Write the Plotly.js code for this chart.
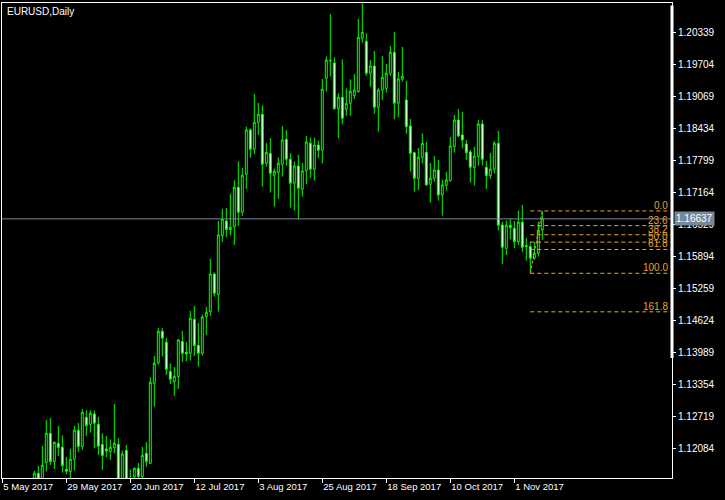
<!DOCTYPE html>
<html>
<head>
<meta charset="utf-8">
<script src="https://cdn.plot.ly/plotly-3.0.1.min.js"></script>
<style>html,body{margin:0;padding:0;background:#000;}</style>
</head>
<body>
<div id="chart" style="width:725px;height:500px;"></div>
<script>
// ---- data ----
const symbolLabel = 'EURUSD,Daily';
const axisStartDate = '2017-05-05';   // first trading day on the time axis
const firstCandleDate = '2017-05-17'; // first candle drawn (earlier ones are below the visible range)

const open = [1.10940,1.11589,1.11180,1.11800,1.12382,1.11820,1.12184,1.12105,1.11668,1.11622,
1.11867,1.12442,1.12118,1.12700,1.12561,1.12766,1.12561,1.12158,1.12072,1.12019,
1.12098,1.12164,1.11350,1.12045,1.11420,1.11523,1.11688,1.11523,1.11986,1.11787,
1.13374,1.13784,1.14406,1.14188,1.13606,1.13408,1.13507,1.14201,1.13990,1.13970,
1.14644,1.14128,1.13970,1.14697,1.14797,1.15544,1.15134,1.16305,1.16596,1.16424,
1.16483,1.17263,1.16768,1.17521,1.18401,1.18017,1.18553,1.18712,1.17740,1.17938,
1.17502,1.17561,1.17720,1.18216,1.17819,1.17343,1.17687,1.17224,1.17594,1.18136,
1.17621,1.18103,1.17998,1.19426,1.19783,1.19730,1.18824,1.19049,1.18811,1.18930,
1.19082,1.19161,1.20220,1.20160,1.19525,1.19671,1.18851,1.19194,1.19228,1.19525,
1.19942,1.18930,1.19406,1.18996,1.18480,1.17951,1.17442,1.17859,1.17958,1.17323,
1.17442,1.17607,1.17111,1.17303,1.17396,1.18070,1.18599,1.18302,1.18123,1.17964,
1.17660,1.17872,1.18520,1.17660,1.17495,1.17621,1.18136,1.16516,1.16053,1.16510,
1.16450,1.16186,1.16570,1.16106,1.16086,1.15855,1.15954,1.16417];
const high = [1.11635,1.11734,1.12131,1.12647,1.12687,1.12220,1.12528,1.12343,1.11913,1.12072,
1.12528,1.12587,1.12865,1.12839,1.12839,1.12839,1.12707,1.12382,1.12329,1.12263,
1.12965,1.12283,1.12039,1.12151,1.11655,1.11700,1.11794,1.12111,1.12210,1.13493,
1.13917,1.14472,1.14472,1.14274,1.13771,1.13698,1.14254,1.14413,1.14188,1.14809,
1.14909,1.14571,1.14737,1.14889,1.15842,1.15571,1.16596,1.16834,1.16854,1.17131,
1.17402,1.17779,1.17647,1.18467,1.18434,1.19115,1.18937,1.18890,1.18136,1.18236,
1.17640,1.17859,1.18480,1.18401,1.17938,1.17779,1.17905,1.17746,1.18282,1.18249,
1.18249,1.18190,1.19413,1.19856,1.20702,1.19843,1.19128,1.19803,1.19228,1.19406,
1.19512,1.20603,1.20915,1.20319,1.19790,1.19968,1.19234,1.19869,1.19710,1.20067,
1.20345,1.19552,1.20048,1.19373,1.18619,1.17971,1.18044,1.18335,1.18163,1.17746,
1.17885,1.17806,1.17409,1.17568,1.18262,1.18699,1.18818,1.18758,1.18203,1.18004,
1.18064,1.18599,1.18599,1.17786,1.17945,1.18183,1.18381,1.16576,1.16602,1.16642,
1.16596,1.16800,1.16913,1.16258,1.16186,1.16166,1.16582,1.16794];
const low = [1.10820,1.11100,1.11120,1.11622,1.11754,1.11675,1.11933,1.11602,1.11570,1.11490,
1.11642,1.12012,1.12052,1.12330,1.12396,1.12085,1.11953,1.11655,1.11906,1.11853,
1.11986,1.11300,1.11280,1.11350,1.11330,1.11480,1.11480,1.11480,1.11721,1.11774,
1.12911,1.13738,1.13903,1.13540,1.13361,1.13123,1.13262,1.13804,1.13811,1.13824,
1.13917,1.13705,1.13923,1.14333,1.14711,1.15094,1.14797,1.16186,1.16272,1.16305,
1.16120,1.16496,1.16695,1.17230,1.17852,1.17925,1.18302,1.17277,1.17674,1.17158,
1.16880,1.17032,1.17475,1.17693,1.16860,1.16801,1.16629,1.17078,1.17323,1.17455,
1.17396,1.17839,1.17740,1.19161,1.19459,1.18804,1.18236,1.18513,1.18685,1.18685,
1.19016,1.19142,1.20134,1.19472,1.19261,1.18725,1.18368,1.18996,1.19142,1.19472,
1.18613,1.18652,1.19360,1.18328,1.17574,1.17178,1.17211,1.17740,1.17297,1.16959,
1.17376,1.16999,1.16701,1.17197,1.17376,1.17951,1.18256,1.18037,1.17806,1.17356,
1.17297,1.17693,1.17693,1.17230,1.17429,1.17541,1.16404,1.15742,1.15920,1.16232,
1.16053,1.16119,1.15974,1.15809,1.15557,1.15822,1.15888,1.16219];
const close = [1.11589,1.11180,1.11748,1.12382,1.11820,1.12204,1.12098,1.11741,1.11629,1.11867,
1.12442,1.12118,1.12799,1.12535,1.12779,1.12581,1.12125,1.11940,1.12032,1.12105,
1.12184,1.11380,1.11973,1.11420,1.11460,1.11688,1.11523,1.11946,1.11820,1.13394,
1.13770,1.14406,1.14267,1.13652,1.13454,1.13513,1.14234,1.13970,1.13956,1.14664,
1.14122,1.13970,1.14690,1.14783,1.15544,1.15161,1.16318,1.16629,1.16424,1.16470,
1.17263,1.16768,1.17502,1.18401,1.18017,1.18553,1.18712,1.17720,1.17958,1.17541,
1.17581,1.17740,1.18203,1.17819,1.17343,1.17687,1.17244,1.17588,1.18163,1.17621,
1.18103,1.17998,1.19208,1.19790,1.19776,1.18824,1.19049,1.18632,1.18930,1.19168,
1.19195,1.20239,1.20339,1.19525,1.19671,1.18851,1.19194,1.19446,1.19525,1.19942,
1.18930,1.19413,1.19466,1.18467,1.17938,1.17442,1.17859,1.18136,1.17310,1.17442,
1.17607,1.17111,1.17310,1.17409,1.18083,1.18599,1.18282,1.18203,1.17951,1.17660,
1.17885,1.18520,1.17819,1.17495,1.17627,1.18136,1.16510,1.16073,1.16510,1.16463,
1.16186,1.16570,1.16073,1.16086,1.15855,1.15954,1.16417,1.16637];

const tickDates  = ['2017-05-05','2017-05-29','2017-06-20','2017-07-12','2017-08-03','2017-08-25','2017-09-18','2017-10-10','2017-11-01'];
const tickLabels = ['5 May 2017','29 May 2017','20 Jun 2017','12 Jul 2017','3 Aug 2017','25 Aug 2017','18 Sep 2017','10 Oct 2017','1 Nov 2017'];
const priceTicks = [1.12084,1.12719,1.13354,1.13989,1.14624,1.15259,1.15894,1.16529,1.17164,1.17799,1.18434,1.19069,1.19704,1.20339];

const fibLevels = [0, 23.6, 38.2, 50.0, 61.8, 100.0, 161.8];
const fibLabels = ['0.0','23.6','38.2','50.0','61.8','100.0','161.8'];
const fibLowDate  = '2017-11-07';
const fibHighDate = '2017-11-10';

// ---- trading-day index helpers ----
function parseD(s){ return new Date(s + 'T00:00:00Z'); }
function fmt(d){ return d.toISOString().slice(0,10); }
function tradingIndex(s){
  const cur = parseD(axisStartDate), end = parseD(s);
  let n = 0;
  while (cur < end){
    cur.setUTCDate(cur.getUTCDate()+1);
    const wd = cur.getUTCDay();
    if (wd !== 0 && wd !== 6) n++;
  }
  return n;
}
const candleDates = [];
{
  const cur = parseD(firstCandleDate);
  while (candleDates.length < open.length){
    const wd = cur.getUTCDay();
    if (wd !== 0 && wd !== 6) candleDates.push(fmt(cur));
    cur.setUTCDate(cur.getUTCDate()+1);
  }
}
const xIdx = candleDates.map(tradingIndex);
const tickIdx = tickDates.map(tradingIndex);

const lowPos = candleDates.indexOf(fibLowDate);
const highPos = candleDates.indexOf(fibHighDate);
const fibLow = low[lowPos], fibHigh = high[highPos];
const fibPrices = fibLevels.map(l => fibHigh - (fibHigh - fibLow) * l / 100);
const lastClose = close[close.length-1];

// ---- styling ----
const GREEN = '#00ff00';
const FIB = '#e8a030';
const BID = '#778899';
const xRange = [-0.075, 167.425];
const yRange = [1.11495, 1.20920];

const shapes = [];
shapes.push({type:'line', xref:'paper', yref:'y', x0:0, x1:1, y0:lastClose, y1:lastClose,
  line:{color:BID, width:1}, layer:'above'});
fibPrices.forEach(p => shapes.push({type:'line', xref:'x', yref:'y',
  x0:xIdx[lowPos], x1:xRange[1], y0:p, y1:p, line:{color:FIB, width:1, dash:'4px,3px'}, layer:'above'}));
shapes.push({type:'line', xref:'x', yref:'y', x0:xIdx[lowPos], y0:fibLow, x1:xIdx[highPos], y1:fibHigh,
  line:{color:FIB, width:1, dash:'3px,2px'}, layer:'above'});
shapes.push({type:'line', xref:'paper', yref:'paper', x0:1, x1:1, y0:0.2526, y1:0.995,
  line:{color:'#ffffff', width:3}, layer:'above'});

const annotations = [];
annotations.push({xref:'paper', yref:'paper', x:0, y:1, xanchor:'left', yanchor:'top',
  xshift:3, yshift:-1, text:symbolLabel, showarrow:false,
  font:{family:'Liberation Sans, Arial, sans-serif', size:10, color:'#ffffff'}});
fibPrices.forEach((p,i) => annotations.push({xref:'paper', yref:'y', x:1, y:p,
  xanchor:'right', yanchor:'bottom', xshift:-2, yshift:-2, text:fibLabels[i], showarrow:false,
  font:{family:'Liberation Sans, Arial, sans-serif', size:10, color:FIB}}));
annotations.push({xref:'paper', yref:'y', x:1, y:lastClose, xanchor:'left', yanchor:'middle',
  xshift:2, text:lastClose.toFixed(5), showarrow:false, bgcolor:BID, borderpad:1,
  font:{family:'Liberation Sans, Arial, sans-serif', size:10, color:'#ffffff'}});

const data = [{
  type:'candlestick', x:xIdx, open:open, high:high, low:low, close:close,
  increasing:{line:{color:GREEN, width:1}, fillcolor:'#000000'},
  decreasing:{line:{color:GREEN, width:1}, fillcolor:'#ffffff'},
  whiskerwidth:0, hoverinfo:'none'
}];

const layout = {
  width:725, height:500, autosize:false,
  paper_bgcolor:'#000000', plot_bgcolor:'#000000',
  margin:{l:2, r:53, t:3, b:22, pad:0},
  showlegend:false,
  boxgap:0.3, boxgroupgap:0.3,
  xaxis:{type:'linear', range:xRange, showgrid:false, zeroline:false,
    showline:true, mirror:true, linecolor:'#ffffff', linewidth:1,
    ticks:'outside', ticklen:4, tickwidth:1, tickcolor:'#ffffff',
    tickvals:tickIdx, ticktext:tickLabels, ticklabelposition:'outside right',
    tickfont:{family:'Liberation Sans, Arial, sans-serif', size:9.5, color:'#ffffff'},
    rangeslider:{visible:false}, fixedrange:true},
  yaxis:{side:'right', range:yRange, showgrid:false, zeroline:false,
    showline:true, mirror:true, linecolor:'#ffffff', linewidth:1,
    ticks:'outside', ticklen:3, tickwidth:1, tickcolor:'#ffffff',
    tickvals:priceTicks, ticktext:priceTicks.map(v => v.toFixed(5)),
    tickfont:{family:'Liberation Sans, Arial, sans-serif', size:10, color:'#ffffff'},
    fixedrange:true},
  shapes:shapes,
  annotations:annotations
};

Plotly.newPlot('chart', data, layout, {staticPlot:true, displayModeBar:false});
</script>
</body>
</html>
